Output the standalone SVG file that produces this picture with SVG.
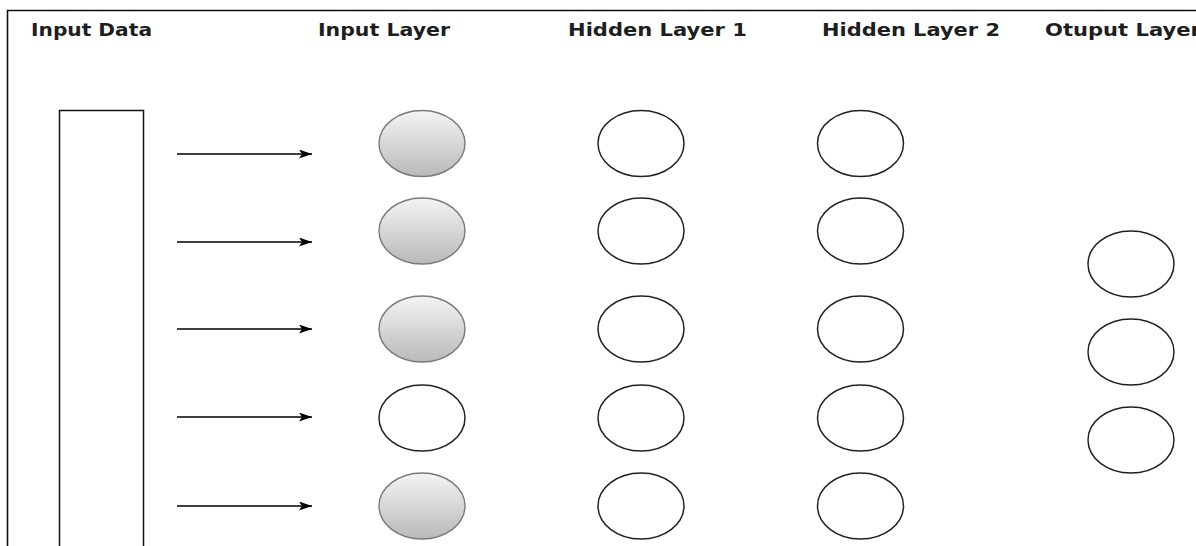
<svg xmlns="http://www.w3.org/2000/svg" width="1196" height="546" viewBox="0 0 1196 546">
  <style>
    .title { font-family: "DejaVu Sans", Verdana, sans-serif; font-weight: bold; font-size: 18px; fill: #1e1e1e; }
    .frame { stroke: #111; stroke-width: 1.6; fill: none; }
    .conn { stroke: #000; stroke-width: 1.5; fill: none; marker-end: url(#arrow); }
    .open { fill: #fff; stroke: #222; stroke-width: 1.5; }
    .filled { fill: url(#grad); stroke: #7a7a7a; stroke-width: 1.4; }
  </style>
  <defs>
    <linearGradient id="grad" x1="0" y1="0" x2="0" y2="1">
      <stop offset="0" stop-color="#f4f4f4"/>
      <stop offset="1" stop-color="#b9b9b9"/>
    </linearGradient>
    <marker id="arrow" viewBox="0 0 13 9" refX="13" refY="4.5" markerWidth="13" markerHeight="9" markerUnits="userSpaceOnUse" orient="auto">
      <path d="M0,0 L13,4.5 L0,9 L3,4.5 Z" fill="#000"/>
    </marker>
  </defs>
  <rect width="1196" height="546" fill="#fff"/>
  <g id="frame">
    <path class="frame" d="M7.5,546 V10.5 H1196"/>
  </g>
  <g id="titles">
    <text class="title" x="31" y="36" textLength="121" lengthAdjust="spacingAndGlyphs">Input Data</text>
    <text class="title" x="318" y="36" textLength="132" lengthAdjust="spacingAndGlyphs">Input Layer</text>
    <text class="title" x="568" y="36" textLength="179" lengthAdjust="spacingAndGlyphs">Hidden Layer 1</text>
    <text class="title" x="822" y="36" textLength="178" lengthAdjust="spacingAndGlyphs">Hidden Layer 2</text>
    <text class="title" x="1045" y="36" textLength="156" lengthAdjust="spacingAndGlyphs">Otuput Layer</text>
  </g>
  <g id="input-data">
    <rect x="59.5" y="110.5" width="84" height="450" fill="#fff" stroke="#111" stroke-width="1.5"/>
  </g>
  <g id="connectors">
    <line class="conn" x1="177" y1="154" x2="312" y2="154"/>
    <line class="conn" x1="177" y1="242" x2="312" y2="242"/>
    <line class="conn" x1="177" y1="329" x2="312" y2="329"/>
    <line class="conn" x1="177" y1="417" x2="312" y2="417"/>
    <line class="conn" x1="177" y1="506" x2="312" y2="506"/>
  </g>
  <g id="input-layer">
    <ellipse id="in1" class="filled" cx="422" cy="143.5" rx="43" ry="33"/>
    <ellipse id="in2" class="filled" cx="422" cy="231" rx="43" ry="33"/>
    <ellipse id="in3" class="filled" cx="422" cy="329" rx="43" ry="33"/>
    <ellipse id="in4" class="open" cx="422" cy="418" rx="43" ry="33"/>
    <ellipse id="in5" class="filled" cx="422" cy="506" rx="43" ry="33"/>
  </g>
  <g id="hidden-layer-1">
    <ellipse id="h1a" class="open" cx="641" cy="143.5" rx="43" ry="33"/>
    <ellipse id="h1b" class="open" cx="641" cy="231" rx="43" ry="33"/>
    <ellipse id="h1c" class="open" cx="641" cy="329" rx="43" ry="33"/>
    <ellipse id="h1d" class="open" cx="641" cy="418" rx="43" ry="33"/>
    <ellipse id="h1e" class="open" cx="641" cy="506" rx="43" ry="33"/>
  </g>
  <g id="hidden-layer-2">
    <ellipse id="h2a" class="open" cx="860.5" cy="143.5" rx="43" ry="33"/>
    <ellipse id="h2b" class="open" cx="860.5" cy="231" rx="43" ry="33"/>
    <ellipse id="h2c" class="open" cx="860.5" cy="329" rx="43" ry="33"/>
    <ellipse id="h2d" class="open" cx="860.5" cy="418" rx="43" ry="33"/>
    <ellipse id="h2e" class="open" cx="860.5" cy="506" rx="43" ry="33"/>
  </g>
  <g id="output-layer">
    <ellipse id="o1" class="open" cx="1131" cy="264" rx="43" ry="33"/>
    <ellipse id="o2" class="open" cx="1131" cy="352" rx="43" ry="33"/>
    <ellipse id="o3" class="open" cx="1131" cy="440" rx="43" ry="33"/>
  </g>
</svg>
